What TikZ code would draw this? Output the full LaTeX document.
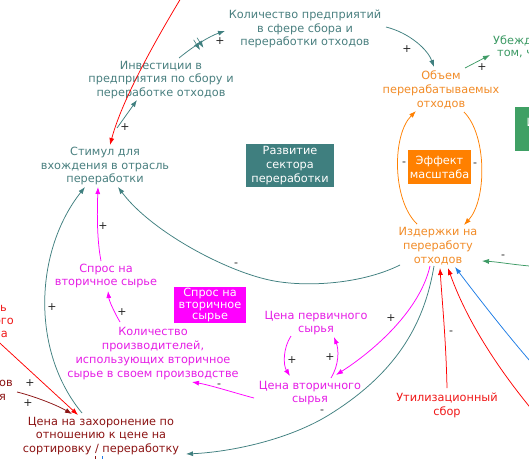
\documentclass[tikz,border=0pt]{standalone}
\usepackage{fontspec}
\setmainfont{DejaVu Sans}
\usetikzlibrary{arrows.meta,calc,decorations.markings}
\definecolor{tealT}{HTML}{4A8080}
\definecolor{tealB}{HTML}{3F7F7F}
\definecolor{orangeT}{HTML}{F28C28}
\definecolor{orangeL}{HTML}{FF8000}
\definecolor{magT}{HTML}{E61EE6}
\definecolor{magL}{HTML}{FF00FF}
\definecolor{redT}{HTML}{F01818}
\definecolor{redL}{HTML}{FF0000}
\definecolor{dredT}{HTML}{8C1414}
\definecolor{greenT}{HTML}{3C9A64}
\definecolor{greenB}{HTML}{3FA064}
\definecolor{blueL}{HTML}{1E7DE6}
\begin{document}
\begin{tikzpicture}[x=1pt,y=-1pt,
  txt/.style={inner sep=0pt, align=center, font=\fontsize{11.3}{13.8}\selectfont},
  boxn/.style={inner sep=0pt, align=center, text=white, font=\fontsize{11.3}{13.8}\selectfont},
  arr/.style={-{Latex[length=7pt,width=5pt]}, line width=0.75pt},
  pm/.style={inner sep=0pt, text=black!85, font=\fontsize{11}{11}\selectfont}]
\useasboundingbox (0,0) rectangle (529,458);
\clip (0,0) rectangle (529,458);
\fill[white] (0,0) rectangle (529,458);

% nodes
\node[txt, text=tealT] (kol) at (305,29) {Количество предприятий\\в сфере сбора и\\переработки отходов};
\node[txt, text=tealT] (inv) at (161,80) {Инвестиции в\\предприятия по сбору и\\переработке отходов};
\node[txt, text=tealT] (stim) at (105,166) {Стимул для\\вхождения в отрасль\\переработки};
\node[boxn, fill=tealB, minimum width=88pt, minimum height=43pt] (razv) at (290,165.5) {Развитие\\сектора\\переработки};
\node[txt, text=orangeT] (obem) at (441,90) {Объем\\перерабатываемых\\отходов};
\node[boxn, fill=orangeL, minimum width=63pt, minimum height=34pt] (eff) at (439.5,167) {Эффект\\масштаба};
\node[txt, text=orangeT] (izd) at (438,246) {Издержки на\\переработу\\отходов};
\node[txt, text=greenT, align=left, anchor=west, font=\fontsize{11.3}{12}\selectfont] (ub) at (493,47) {Убежд\\\hspace*{4pt}том, ч};
\node[boxn, fill=greenB, anchor=north west, minimum width=40pt, minimum height=44pt, align=left, inner xsep=2pt] (inf) at (515,107) {Ин\\\hspace*{10pt}п};
\node[txt, text=magT] (spros) at (106,276) {Спрос на\\вторичное сырье};
\node[boxn, fill=magL, minimum width=72pt, minimum height=36pt, font=\fontsize{11.3}{11.5}\selectfont] (sprb) at (210,305) {Спрос на\\вторичное\\сырье};
\node[txt, text=magT] (kolp) at (153,353.5) {Количество\\производителей,\\использующих вторичное\\сырье в своем производстве};
\node[txt, text=magT] (cperv) at (316,323) {Цена первичного\\сырья};
\node[txt, text=magT] (cvtor) at (310,393) {Цена вторичного\\сырья};
\node[txt, text=redT] (util) at (447,405.5) {Утилизационный\\сбор};
\node[txt, text=dredT] (czah) at (101,436) {Цена на захоронение по\\отношению к цене на\\сортировку / переработку};
\node[txt, text=redT, align=right, anchor=east, font=\fontsize{11.3}{13}\selectfont] (lred) at (14,321) {ть\kern7pt\\ого\\са\kern6pt};
\node[txt, text=dredT, align=right, anchor=east] (ldred) at (13,390) {ов\\я\kern7pt};

\coordinate (redtop) at (192,-20);
\coordinate (redbr) at (545,425);
\coordinate (bluer) at (545,378);
\coordinate (greenr) at (545,267);
\coordinate (lredst) at (-10,334);

% connectors
\draw[arr, redL] (redtop) .. controls (155,40) and (122,100) .. ($(stim)+(5,-21)$);
\draw[arr, tealB] ($(stim)+(12,-38)$) -- ($(inv)+(-24,20)$);
\draw[arr, tealB, postaction={decorate, decoration={markings, mark=at position 0.45 with {\draw[line width=0.6pt] (-2,-6) -- (-2,6); \draw[line width=0.6pt] (2,-6) -- (2,6);}}}]
  ($(inv)+(18,-22)$) .. controls (195,45) and (210,36) .. ($(kol)+(-80,2)$);
\draw[arr, tealB] ($(kol)+(81,-2)$) .. controls (410,33) and (428,50) .. ($(obem)+(-7,-23)$);
\draw[arr, greenT] ($(obem)+(24,-22)$) -- ($(ub.west)+(-3,8)$);
\draw[arr, orangeL] ($(izd)+(-21,-22)$) .. controls (392,200) and (392,135) .. ($(obem)+(-25,21)$);
\draw[arr, orangeL] ($(obem)+(23,22)$) .. controls (487,135) and (487,200) .. ($(izd)+(26,-21)$);
\draw[arr, tealB] ($(izd)+(-38,19)$) .. controls (360,285) and (300,288) .. (265,279) .. controls (220,268) and (150,230) .. ($(stim)+(13,21)$);
\draw[arr, magL] ($(spros)+(-5,-15)$) .. controls (97,240) and (97,215) .. ($(stim)+(-7,21)$);
\draw[arr, tealB] ($(czah)+(-19,-23)$) .. controls (30,350) and (35,250) .. ($(stim)+(-20,21)$);
\draw[arr, magL] ($(kolp)+(-33,-31.5)$) .. controls (113,310) and (109,300) .. ($(spros)+(2,15)$);
\draw[arr, magL] ($(cvtor)+(-56,5)$) .. controls (235,393) and (210,385) .. ($(kolp)+(39,28.5)$);
\draw[arr, magL] ($(cperv)+(-25,13)$) .. controls (283,348) and (283,365) .. ($(cvtor)+(-20,-17)$);
\draw[arr, magL] ($(cvtor)+(21,-15)$) .. controls (339,365) and (339,350) .. ($(cperv)+(18,14)$);
\draw[arr, magL] ($(izd)+(-8,20)$) .. controls (420,310) and (375,350) .. ($(cvtor)+(26,-18)$);
\draw[arr, tealB] ($(izd)+(-4,20)$) .. controls (425,320) and (400,370) .. (332,413) .. controls (290,440) and (230,452) .. ($(czah)+(85,18)$);
\draw[arr, redL] ($(util)+(0,-17.5)$) .. controls (446,340) and (442,300) .. ($(izd)+(2,22)$);
\draw[arr, redL] (redbr) .. controls (510,385) and (470,330) .. ($(izd)+(10,22)$);
\draw[arr, blueL] (bluer) .. controls (515,345) and (480,300) .. ($(izd)+(17,21)$);
\draw[arr, greenT] (greenr) .. controls (520,266) and (500,262) .. ($(izd)+(44,15)$);
\draw[arr, redL] (lredst) -- ($(czah)+(-23,-21)$);
\draw[arr, dredT] ($(ldred.east)+(4,2)$) .. controls (30,395) and (55,404) .. ($(czah)+(-29,-22)$);
\draw[line width=0.75pt, dredT] ($(czah.south)+(-6,1)$) -- ++(0,12);
\draw[line width=0.75pt, blueL] ($(czah.south)+(1,1)$) -- ++(0,12);

% polarity labels
\node[pm] (p1) at (125,127) {+};
\node[pm] (p2) at (220,41) {+};
\node[pm] (p3) at (407,49) {+};
\node[pm] (p4) at (482,67) {+};
\node[pm] (m1) at (404,164) {-};
\node[pm] (m2) at (475,165) {-};
\node[pm] (m3) at (236,265) {-};
\node[pm] (p5) at (103,226) {+};
\node[pm] (p6) at (52,307) {+};
\node[pm] (p7) at (122,312) {+};
\node[pm] (m4) at (219,386) {-};
\node[pm] (p8) at (292,360) {+};
\node[pm] (p9) at (330,357) {+};
\node[pm] (p10) at (391,318) {+};
\node[pm] (m5) at (322,412) {-};
\node[pm] (m6) at (451,333) {-};
\node[pm] (m7) at (503,257) {-};
\node[pm] (p11) at (30,383) {+};
\node[pm] (p12) at (28,403) {+};
\end{tikzpicture}
\end{document}
